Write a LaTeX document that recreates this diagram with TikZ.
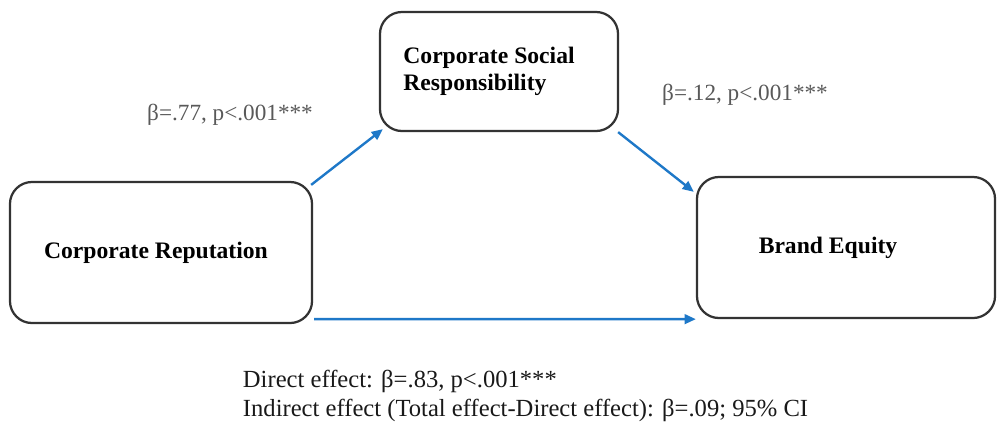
\documentclass[tikz,border=0pt]{standalone}
\usepackage{fontspec}
\setmainfont{Liberation Serif}
\usetikzlibrary{arrows.meta,positioning}
\definecolor{pathblue}{RGB}{30,120,200}

\begin{document}
\begin{tikzpicture}[x=0.025cm,y=-0.025cm,
  construct/.style={draw=black!80,line width=1.6pt,rounded corners=0.55cm,align=center,font=\fontsize{16.8}{19}\selectfont\bfseries,inner sep=0pt},
  coef/.style={font=\fontsize{16.5}{19}\selectfont,text=black!65},
  arr/.style={-{Triangle[length=2.8mm,width=2.4mm]},line width=1.7pt,draw=pathblue}]
\useasboundingbox (0,0) rectangle (997,423);
\node[construct,minimum width=7.55cm,minimum height=3.525cm] (rep) at (161,252.5){Corporate Reputation\hspace*{0.25cm}};
\node[construct,minimum width=5.95cm,minimum height=2.975cm,align=left] (csr) at (499,71.5){Corporate Social\hspace*{0.5cm}\\Responsibility};
\node[construct,minimum width=7.45cm,minimum height=3.525cm] (equity) at (846,247.5){Brand Equity\hspace*{0.9cm}};
\node[coef] (b1) at (230,115){β=.77, p<.001***};
\node[coef] (b2) at (745,95){β=.12, p<.001***};
\node[font=\fontsize{17.5}{20.5}\selectfont,align=left,anchor=north west,text=black!90] (effects) at (238,365){Direct effect: β=.83, p<.001***\\Indirect effect (Total effect-Direct effect): β=.09; 95\% CI};
\draw[arr] ([shift={(-0.05cm,-0.1cm)}]rep.north east) -- ([shift={(0.1cm,0.075cm)}]csr.south west);
\draw[arr] ([shift={(-0.025cm,0cm)}]csr.south east) -- ([shift={(-0.05cm,-0.4cm)}]equity.north west);
\draw[arr] ([shift={(0.025cm,0.125cm)}]rep.south east) -- (equity.south west);
\end{tikzpicture}
\end{document}
